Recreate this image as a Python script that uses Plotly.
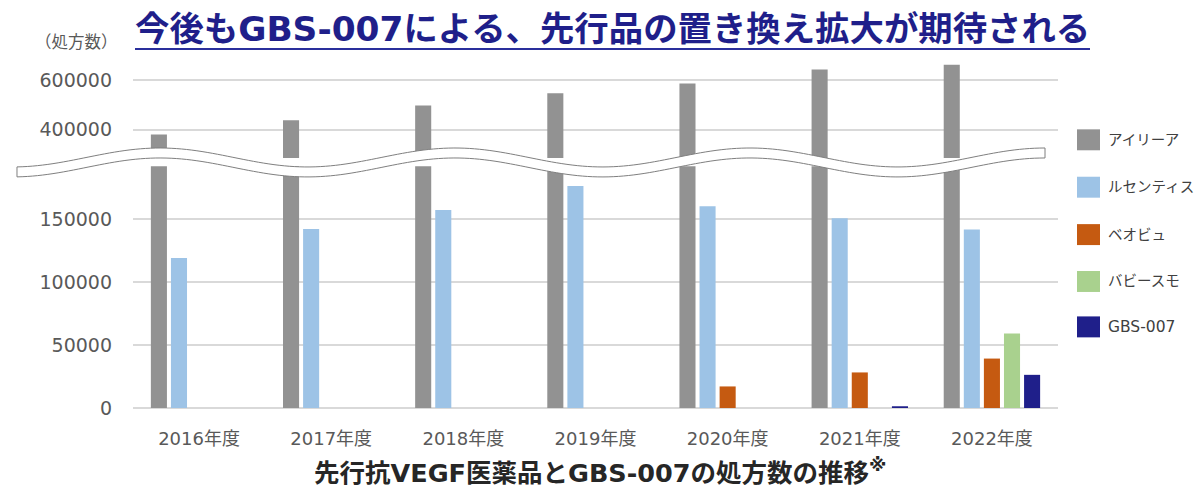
import math
import plotly.graph_objects as go

# ---------------- data ----------------
years = ["2016年度", "2017年度", "2018年度", "2019年度", "2020年度", "2021年度", "2022年度"]
eylea = [381000, 438000, 498000, 547000, 586000, 642000, 661000]
lucentis = [119000, 142000, 157000, 176000, 160000, 150500, 141500]
beovu = [None, None, None, None, 17100, 28200, 39200]
vabysmo = [None, None, None, None, None, None, 59000]
gbs007 = [None, None, None, None, None, 1000, 26300]

series_names = ["アイリーア", "ルセンティス", "ベオビュ", "バビースモ", "GBS-007"]
series_values = [eylea, lucentis, beovu, vabysmo, gbs007]
series_colors = ["#929292", "#9dc3e6", "#c55a11", "#a9d18e", "#1f1f8a"]
legend_font_sizes = [14.5, 14.5, 14.5, 14.5, 15.5]

lower_ticks = [0, 50000, 100000, 150000]
upper_ticks = [400000, 600000]

title_text = "今後もGBS-007による、先行品の置き換え拡大が期待される"
caption_text = "先行抗VEGF医薬品とGBS-007の処方数の推移<sup>※</sup>"
unit_text = "（処方数）"

# ---------------- layout geometry (pixels) ----------------
FW, FH = 1196, 490
L, R, T, B = 133, 1058, 59.5, 408.3
PW, PH = R - L, B - T


def xp(px):
    return (px - L) / PW


def yp(py):
    return (B - py) / PH


lower_top_px = 166.0
upper_bot_px = 157.7
lower_dom = [0, yp(lower_top_px)]
upper_dom = [yp(upper_bot_px), 1]
lower_range = [0, 191700]
upper_range = [287200, 680000]

FONT = "DejaVu Sans, Noto Sans CJK JP, sans-serif"
BFONT = "DejaVu Sans, Noto Sans CJK JP, sans-serif"

fig = go.Figure()
for name, vals, col in zip(series_names, series_values, series_colors):
    for ya in ["y", "y2"]:
        fig.add_trace(go.Bar(
            x=years, y=vals, name=name, marker_color=col,
            marker_line_width=0, yaxis=ya, xaxis="x",
            showlegend=False, hoverinfo="skip",
        ))

grid = "#d9d9d9"
fig.update_layout(
    width=FW, height=FH,
    margin=dict(l=L, r=FW - R, t=T, b=FH - B, pad=0),
    paper_bgcolor="white", plot_bgcolor="white",
    barmode="group", bargap=0.24, bargroupgap=0.2,
    xaxis=dict(
        anchor="y", showgrid=False, showline=False, zeroline=False,
        ticks="", tickfont=dict(family=FONT, size=18, color="#595959"),
        ticklabelstandoff=18,
    ),
    yaxis=dict(
        domain=lower_dom, range=lower_range, tickvals=lower_ticks,
        ticktext=[str(v) for v in lower_ticks],
        showgrid=True, gridcolor=grid, gridwidth=1.5,
        zeroline=True, zerolinecolor=grid, zerolinewidth=1.5,
        showline=False, ticks="", ticklabelstandoff=20,
        tickfont=dict(family=FONT, size=19, color="#595959"),
    ),
    yaxis2=dict(
        domain=upper_dom, range=upper_range, tickvals=upper_ticks,
        ticktext=[str(v) for v in upper_ticks],
        anchor="x",
        showgrid=True, gridcolor=grid, gridwidth=1.5,
        zeroline=False, showline=False, ticks="", ticklabelstandoff=20,
        tickfont=dict(family=FONT, size=19, color="#595959"),
    ),
)

shapes = []
annotations = []

# wavy break band
xs = [17 + i * (1045 - 17) / 200 for i in range(201)]
yu = [157.2 - 9.5 * math.cos(2 * math.pi * (x - 160) / 295) for x in xs]
yl = [y + 10 for y in yu]
pts = [(xp(x), yp(y)) for x, y in zip(xs, yu)] + [(xp(x), yp(y)) for x, y in zip(reversed(xs), reversed(yl))]
path = "M " + " L ".join(f"{a:.5f},{b:.5f}" for a, b in pts) + " Z"
shapes.append(dict(type="path", xref="paper", yref="paper", path=path,
                   fillcolor="white", line=dict(color="#7f7f7f", width=1), layer="above"))

# legend (manual)
leg_y = [139.5, 187.0, 234.5, 281.5, 327.0]
for name, col, cy, fs in zip(series_names, series_colors, leg_y, legend_font_sizes):
    shapes.append(dict(type="rect", xref="paper", yref="paper",
                       x0=xp(1077), x1=xp(1100), y0=yp(cy - 10.5), y1=yp(cy + 10.5),
                       fillcolor=col, line=dict(width=0), layer="above"))
    annotations.append(dict(xref="paper", yref="paper", x=xp(1106), y=yp(cy),
                            xanchor="left", yanchor="middle", showarrow=False,
                            text=name, font=dict(family=FONT, size=fs, color="#404040")))

# title and underline
annotations.append(dict(xref="paper", yref="paper", x=xp(612.5), y=yp(28),
                        xanchor="center", yanchor="middle", showarrow=False,
                        text="<b>" + title_text + "</b>",
                        font=dict(family=BFONT, size=34.4, color="#1f1f8a")))
shapes.append(dict(type="line", xref="paper", yref="paper",
                   x0=xp(135), x1=xp(1090), y0=yp(48.5), y1=yp(48.5),
                   line=dict(color="#2a2f9c", width=2)))

# unit label
annotations.append(dict(xref="paper", yref="paper", x=xp(33), y=yp(42),
                        xanchor="left", yanchor="middle", showarrow=False,
                        text=unit_text, font=dict(family=FONT, size=16.5, color="#595959")))

# caption
annotations.append(dict(xref="paper", yref="paper", x=xp(600), y=yp(471),
                        xanchor="center", yanchor="middle", showarrow=False,
                        text="<b>" + caption_text + "</b>",
                        font=dict(family=BFONT, size=25.5, color="#262626")))

fig.update_layout(shapes=shapes, annotations=annotations)
fig.write_html("out.html", config={"displayModeBar": False},
               post_script="document.body.style.margin='0';document.body.style.overflow='hidden';")
